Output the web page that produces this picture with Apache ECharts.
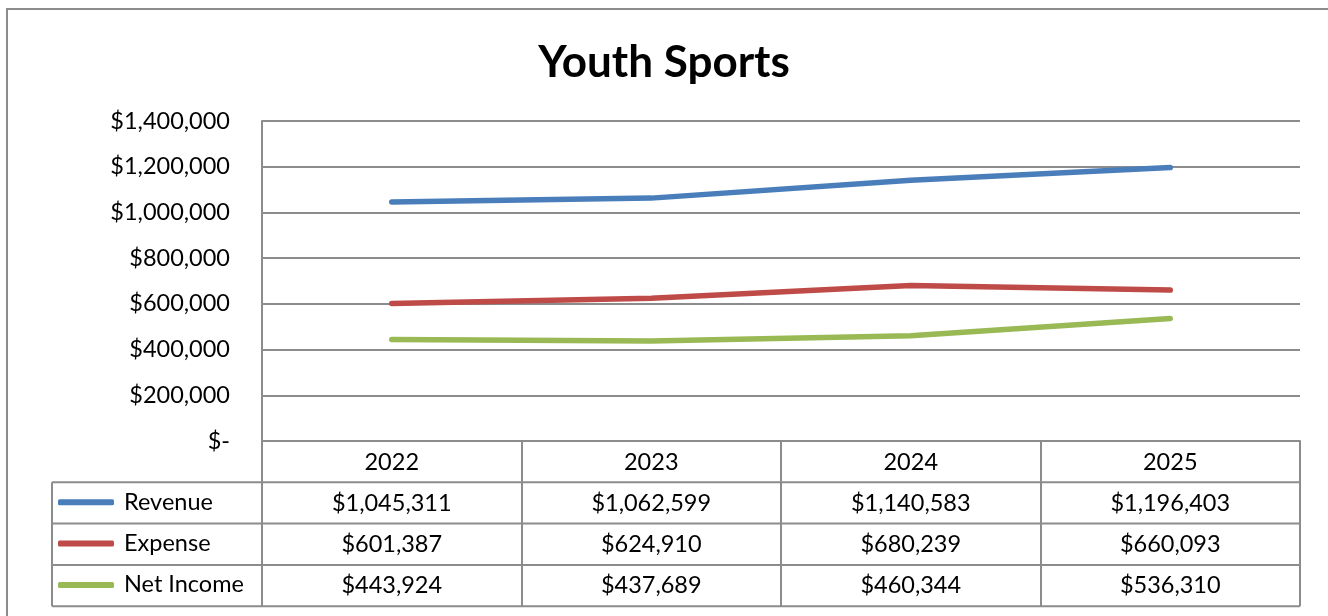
<!DOCTYPE html>
<html>
<head>
<meta charset="utf-8">
<script src="https://cdn.jsdelivr.net/npm/echarts@6/dist/echarts.min.js"></script>
<style>
  html, body { margin: 0; padding: 0; background: #fff; }
  #main { width: 1328px; height: 616px; }
</style>
</head>
<body>
<div id="main"></div>
<script>
// chart data
const years = ['2022', '2023', '2024', '2025'];
const seriesNames = ['Revenue', 'Expense', 'Net Income'];
const revenue = [1045311, 1062599, 1140583, 1196403];
const expense = [601387, 624910, 680239, 660093];
const netIncome = [443924, 437689, 460344, 536310];
const yTicks = [0, 200000, 400000, 600000, 800000, 1000000, 1200000, 1400000];

const colors = ['#4A7EBB', '#BE4B48', '#98B954'];
const gridColor = '#8c8c8c';
const font = 'Lato';
const fs = 23.5;

const money = v => v === 0 ? '$-' : '$' + v.toLocaleString('en-US');

const chart = echarts.init(document.getElementById('main'));

// geometry of plot + data table
const plotL = 262, plotR = 1300, plotT = 121, plotB = 441;
const rowH = 41.3;

const rows = [revenue, expense, netIncome];

// one extra x axis per table row, so the values sit under their category
const xAxes = [{
  type: 'category',
  data: years,
  boundaryGap: true,
  axisLine: { show: true, lineStyle: { color: gridColor, width: 2 } },
  axisTick: { show: true, length: rowH * 4, lineStyle: { color: gridColor, width: 2 } },
  axisLabel: { color: '#000', fontFamily: font, fontSize: fs, margin: 9 }
}];
rows.forEach((r, i) => {
  xAxes.push({
    type: 'category',
    data: r.map(money),
    position: 'bottom',
    offset: rowH * (i + 1),
    boundaryGap: true,
    axisLine: { show: false },
    axisTick: { show: false },
    axisLabel: { color: '#000', fontFamily: font, fontSize: fs, margin: 9 }
  });
});

// table horizontal rules + legend column
const graphics = [
  { type: 'rect', shape: { x: 7, y: 9, width: 1400, height: 700 },
    style: { fill: 'none', stroke: gridColor, lineWidth: 2 }, silent: true },
  { type: 'line', shape: { x1: 52, y1: plotB + rowH, x2: 52, y2: plotB + rowH * 4 },
    style: { stroke: gridColor, lineWidth: 2 } }
];
for (let i = 1; i <= 4; i++) {
  graphics.push({ type: 'line',
    shape: { x1: 52, y1: plotB + rowH * i, x2: plotR, y2: plotB + rowH * i },
    style: { stroke: gridColor, lineWidth: 2 } });
}

chart.setOption({
  animation: false,
  color: colors,
  title: {
    text: 'Youth Sports',
    left: 'center',
    top: 36,
    textStyle: { fontFamily: font, fontSize: 44, fontWeight: 'bold', color: '#000' }
  },
  legend: {
    data: seriesNames,
    orient: 'vertical',
    left: 53,
    top: plotB + rowH + 3,
    itemWidth: 56,
    itemHeight: 6,
    itemGap: 17.3,
    icon: 'roundRect',
    textStyle: { fontFamily: font, fontSize: fs, color: '#000', lineHeight: 24, padding: [0, 0, 0, 5] }
  },
  grid: { left: plotL, right: 1328 - plotR, top: plotT, bottom: 616 - plotB },
  xAxis: xAxes,
  yAxis: {
    type: 'value',
    min: 0,
    max: 1400000,
    interval: 200000,
    axisLine: { show: true, lineStyle: { color: gridColor, width: 2 } },
    axisTick: { show: false },
    splitLine: { lineStyle: { color: gridColor, width: 2 } },
    axisLabel: {
      color: '#000', fontFamily: font, fontSize: fs, margin: 32,
      formatter: v => yTicks.includes(v) ? money(v) : ''
    }
  },
  series: rows.map((r, i) => ({
    name: seriesNames[i],
    type: 'line',
    data: r,
    xAxisIndex: 0,
    symbol: 'none',
    lineStyle: { width: 5.5, cap: 'round' }
  })),
  graphic: graphics
});
</script>
</body>
</html>
